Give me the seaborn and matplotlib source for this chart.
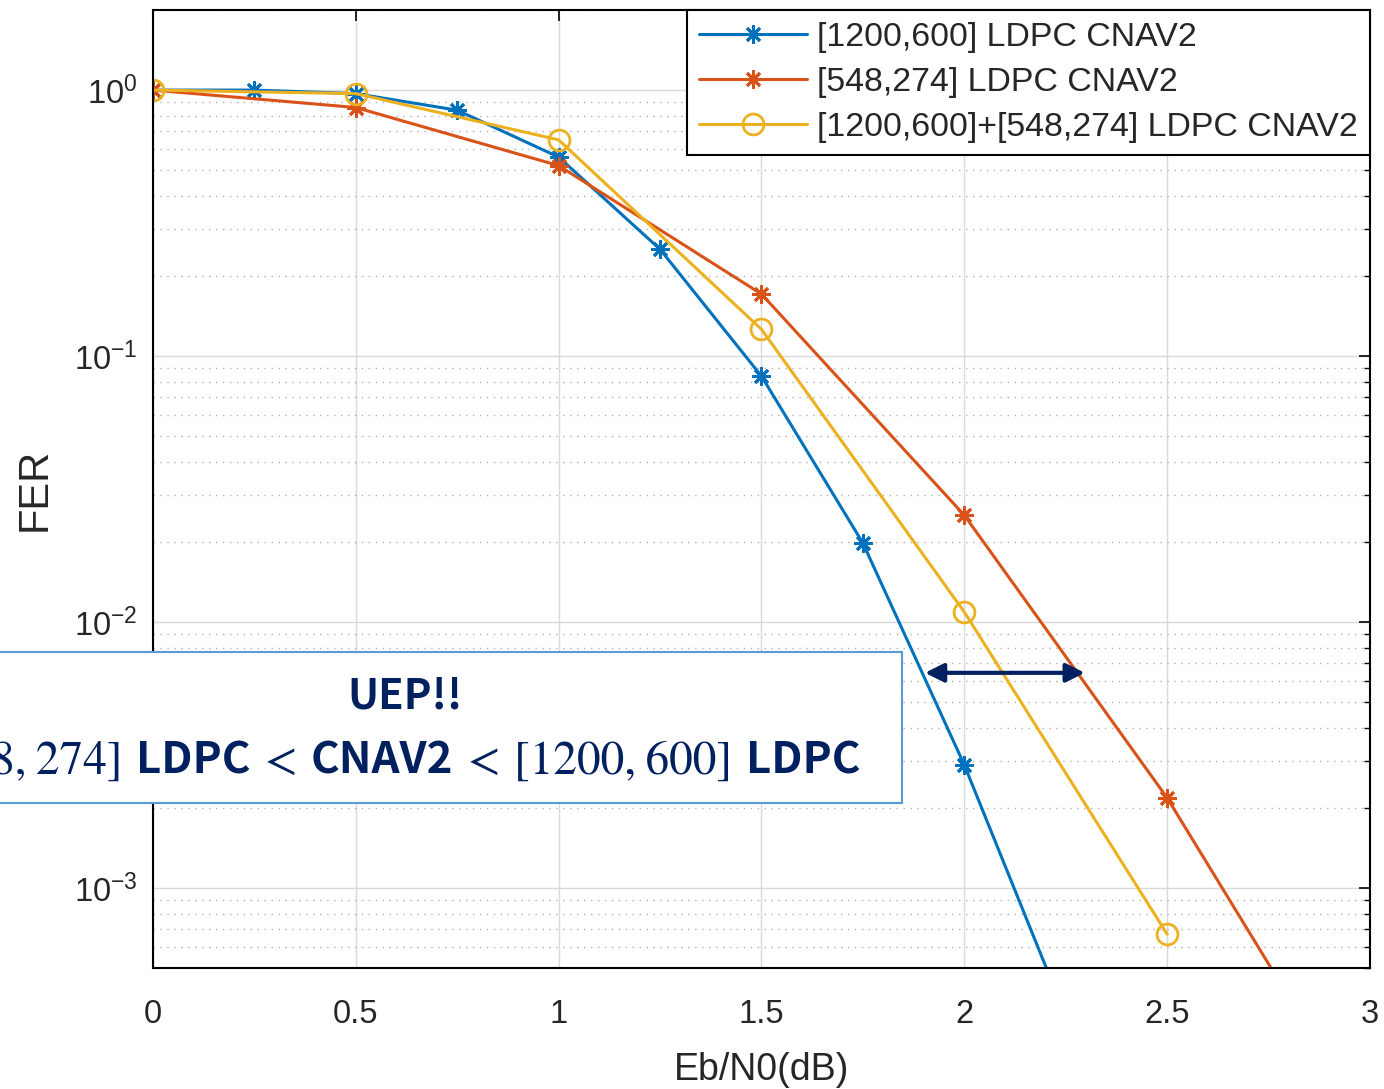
import pandas as pd
import seaborn as sns
import matplotlib.pyplot as plt
from matplotlib.patches import Rectangle
from matplotlib.offsetbox import TextArea, HPacker, AnnotationBbox
from matplotlib.ticker import FixedLocator, FormatStrFormatter, LogLocator, NullFormatter

# FER curves
ebno_1200 = [0, 0.25, 0.5, 0.75, 1.0, 1.25, 1.5, 1.75, 2.0, 2.25]
fer_1200 = [1.0, 1.0, 0.97, 0.84, 0.56, 0.252, 0.084, 0.0198, 0.0029, 3.3e-4]

ebno_548 = [0, 0.5, 1.0, 1.5, 2.0, 2.5, 3.0]
fer_548 = [1.0, 0.86, 0.52, 0.171, 0.0252, 0.00218, 1.23e-4]

ebno_comb = [0, 0.5, 1.0, 1.5, 2.0, 2.5]
fer_comb = [1.0, 0.97, 0.65, 0.126, 0.0109, 6.7e-4]

labels = ["[1200,600] LDPC CNAV2", "[548,274] LDPC CNAV2",
          "[1200,600]+[548,274] LDPC CNAV2"]
colors = ["#0072BD", "#D95319", "#EDB120"]
x_ticks = [0, 0.5, 1, 1.5, 2, 2.5, 3]

# call-out text, split into (text, is_serif) pieces
callout_title = "UEP!!"
callout_parts = [("[548,\u2009274]", True), ("LDPC", False), ("<", True),
                 ("CNAV2", False), ("<", True), ("[1200,\u2009600]", True),
                 ("LDPC", False)]

# double arrow between the curves
arrow_x = (1.903, 2.297)
arrow_y = 0.00644

TXT = "#262626"
NAVY = "#002060"
SANS_KR = ["Noto Sans CJK KR", "DejaVu Sans"]
SERIF = ["STIXGeneral", "DejaVu Serif"]


def set_style():
    sns.set_theme(style="white")
    plt.rcParams["font.family"] = ["Liberation Sans", "DejaVu Sans"]
    plt.rcParams["axes.edgecolor"] = "black"
    plt.rcParams["axes.unicode_minus"] = False


def main():
    set_style()
    fig = plt.figure(figsize=(13.84, 10.89), dpi=100)
    ax = fig.add_axes([0.1105, 0.1111, 0.8794, 0.8797])

    series = [
        (ebno_1200, fer_1200, (8, 2, 0), 13, "full"),
        (ebno_548, fer_548, (8, 2, 0), 13, "full"),
        (ebno_comb, fer_comb, "o", 15, "none"),
    ]
    for (xs, ys, mk, ms, fill), lab, col in zip(series, labels, colors):
        df = pd.DataFrame({"EbN0": xs, "FER": ys})
        sns.lineplot(data=df, x="EbN0", y="FER", ax=ax, color=col, label=lab,
                     marker=mk, markersize=ms, fillstyle=fill,
                     markeredgewidth=2, markeredgecolor=col, lw=2.2,
                     sort=False, errorbar=None)

    ax.set_yscale("log")
    ax.set_xlim(0, 3)
    ax.set_ylim(5e-4, 2)

    ax.xaxis.set_major_locator(FixedLocator(x_ticks))
    ax.xaxis.set_major_formatter(FormatStrFormatter("%g"))
    ax.yaxis.set_major_locator(LogLocator(base=10, numticks=10))
    ax.yaxis.set_minor_locator(LogLocator(base=10, subs=range(2, 10), numticks=20))
    ax.yaxis.set_minor_formatter(NullFormatter())

    ax.grid(True, which="major", color="#d9d9d9", lw=1, ls="-")
    ax.grid(True, which="minor", axis="y", color="#b0b0b0", lw=1, ls=(0, (1, 4)))
    ax.set_axisbelow(True)

    for sp in ax.spines.values():
        sp.set_color("black")
        sp.set_linewidth(1.5)

    ax.tick_params(which="both", direction="in", top=True, right=True,
                   colors="black", labelcolor=TXT, labelsize=23.5)
    ax.tick_params(axis="x", which="major", length=8, width=1.2, pad=22)
    ax.tick_params(axis="y", which="major", length=8, width=1.2, pad=11)
    ax.tick_params(axis="y", which="minor", length=4, width=1)

    ax.set_xlabel("Eb/N0(dB)", fontsize=27, color=TXT, labelpad=16)
    ax.set_ylabel("FER", fontsize=30, color=TXT, labelpad=14)

    leg = ax.legend(loc="upper right", fontsize=24.4, frameon=True, fancybox=False,
                    edgecolor="black", framealpha=1, borderaxespad=0,
                    handlelength=3.2, handletextpad=0.3, labelspacing=0.42,
                    borderpad=0.35)
    leg.get_frame().set_linewidth(1.5)
    for t in leg.get_texts():
        t.set_color(TXT)

    ax.annotate("", xy=(arrow_x[0], arrow_y), xytext=(arrow_x[1], arrow_y),
                arrowprops=dict(arrowstyle="<|-|>", color=NAVY, lw=3,
                                mutation_scale=28, shrinkA=0, shrinkB=0))

    # call-out box over the lower-left of the plot
    fig.patches.append(Rectangle((-0.01, 0.2626), 0.6617, 0.1387,
                                 transform=fig.transFigure, facecolor="white",
                                 edgecolor="#5B9BD5", lw=1.5, zorder=5))
    fig.text(0.2926, 0.360, callout_title, ha="center", va="center", fontsize=30,
             fontweight="bold", color=NAVY, zorder=6, family=SANS_KR)

    pieces = []
    for txt, is_serif in callout_parts:
        if is_serif:
            props = dict(fontsize=34, color=NAVY, family=SERIF)
        else:
            props = dict(fontsize=31.5, color=NAVY, fontweight="bold", family=SANS_KR)
        pieces.append(TextArea(txt, textprops=props))
    row = HPacker(children=pieces, align="baseline", pad=0, sep=10)
    ab = AnnotationBbox(row, (0.6214, 0.301), xycoords="figure fraction",
                        box_alignment=(1, 0.5), frameon=False, pad=0)
    ab.set_zorder(6)
    fig.add_artist(ab)

    fig.savefig("out.png", dpi=100)


if __name__ == "__main__":
    main()
